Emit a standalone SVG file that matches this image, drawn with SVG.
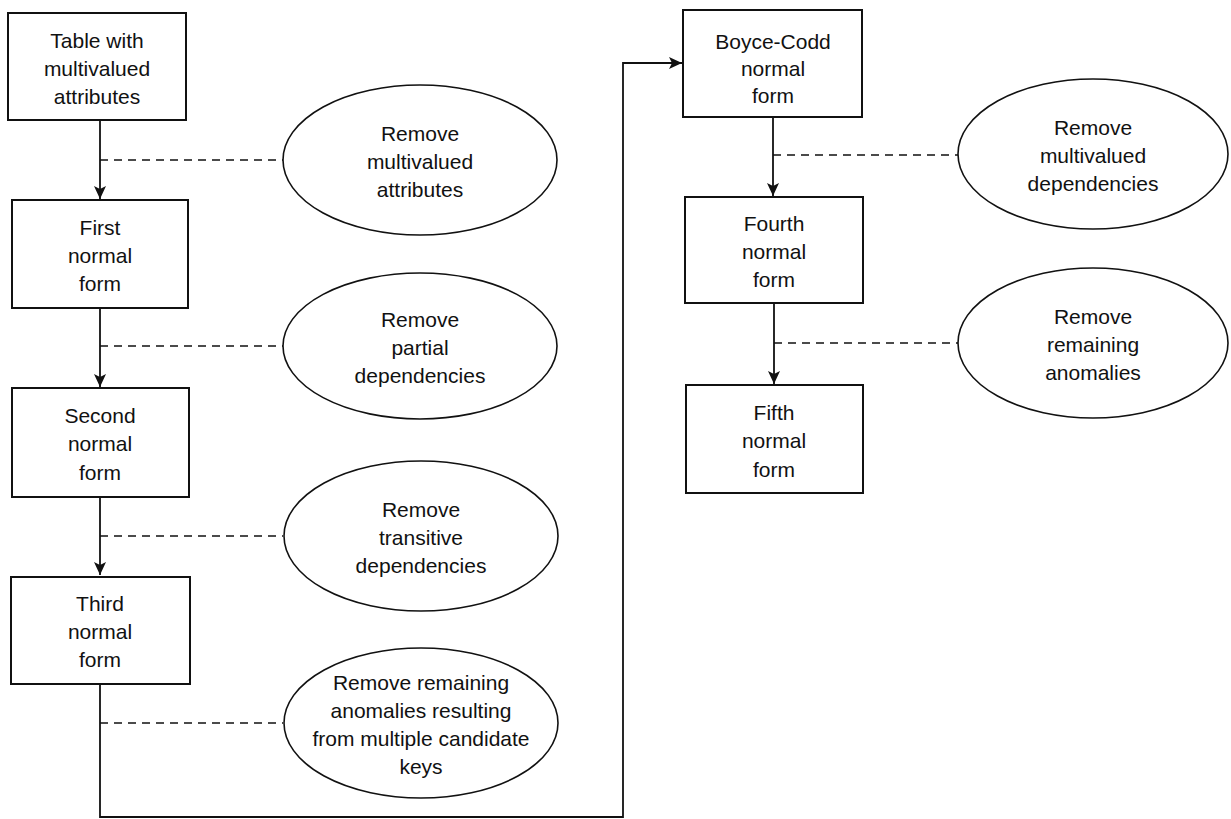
<svg xmlns="http://www.w3.org/2000/svg" width="1231" height="819" viewBox="0 0 1231 819">
<style>
.box{fill:#fff;stroke:#111;stroke-width:2}
.ell{fill:#fff;stroke:#111;stroke-width:1.6}
.t{font-family:"Liberation Sans",Arial,sans-serif;font-size:21px;fill:#111;text-anchor:middle}
.flow{fill:none;stroke:#111;stroke-width:1.8}
.dash{fill:none;stroke:#111;stroke-width:1.3;stroke-dasharray:8 6}
</style>
<defs>
<marker id="ah" markerUnits="userSpaceOnUse" markerWidth="14" markerHeight="12" refX="13" refY="6" orient="auto">
<path d="M0,0 L13,6 L0,12 L3,6 Z" fill="#111"/>
</marker>
</defs>
<g id="connectors">
<line class="flow" x1="100" y1="120" x2="100" y2="199" marker-end="url(#ah)"/>
<line class="flow" x1="100" y1="308" x2="100" y2="387" marker-end="url(#ah)"/>
<line class="flow" x1="100" y1="497" x2="100" y2="575" marker-end="url(#ah)"/>
<polyline class="flow" points="100,683 100,817 623,817 623,63 682,63" marker-end="url(#ah)"/>
<line class="flow" x1="773" y1="117" x2="773" y2="196" marker-end="url(#ah)"/>
<line class="flow" x1="774" y1="303" x2="774" y2="384" marker-end="url(#ah)"/>
<line class="dash" x1="100" y1="160" x2="283" y2="160"/>
<line class="dash" x1="100" y1="346" x2="283" y2="346"/>
<line class="dash" x1="100" y1="536" x2="283" y2="536"/>
<line class="dash" x1="100" y1="723" x2="283" y2="723"/>
<line class="dash" x1="773" y1="155" x2="958" y2="155"/>
<line class="dash" x1="774" y1="343" x2="958" y2="343"/>
</g>
<g id="n1"><rect class="box" x="8" y="13" width="178" height="107"/>
<text class="t" x="97" y="48">Table with</text><text class="t" x="97" y="76">multivalued</text><text class="t" x="97" y="104">attributes</text></g>
<g id="n2"><rect class="box" x="12" y="200" width="176" height="108"/>
<text class="t" x="100" y="235">First</text><text class="t" x="100" y="263">normal</text><text class="t" x="100" y="291">form</text></g>
<g id="n3"><rect class="box" x="12" y="388" width="177" height="109"/>
<text class="t" x="100" y="423">Second</text><text class="t" x="100" y="451">normal</text><text class="t" x="100" y="480">form</text></g>
<g id="n4"><rect class="box" x="11" y="577" width="179" height="107"/>
<text class="t" x="100" y="611">Third</text><text class="t" x="100" y="639">normal</text><text class="t" x="100" y="667">form</text></g>
<g id="n5"><rect class="box" x="683" y="10" width="179" height="107"/>
<text class="t" x="773" y="49">Boyce-Codd</text><text class="t" x="773" y="76">normal</text><text class="t" x="773" y="103">form</text></g>
<g id="n6"><rect class="box" x="685" y="197" width="178" height="106"/>
<text class="t" x="774" y="231">Fourth</text><text class="t" x="774" y="259">normal</text><text class="t" x="774" y="287">form</text></g>
<g id="n7"><rect class="box" x="686" y="385" width="177" height="108"/>
<text class="t" x="774" y="420">Fifth</text><text class="t" x="774" y="448">normal</text><text class="t" x="774" y="477">form</text></g>
<g id="e1"><ellipse class="ell" cx="420" cy="160" rx="137" ry="75"/>
<text class="t" x="420" y="141">Remove</text><text class="t" x="420" y="169">multivalued</text><text class="t" x="420" y="197">attributes</text></g>
<g id="e2"><ellipse class="ell" cx="420" cy="346" rx="137" ry="73"/>
<text class="t" x="420" y="327">Remove</text><text class="t" x="420" y="355">partial</text><text class="t" x="420" y="383">dependencies</text></g>
<g id="e3"><ellipse class="ell" cx="421" cy="536" rx="137" ry="75"/>
<text class="t" x="421" y="517">Remove</text><text class="t" x="421" y="545">transitive</text><text class="t" x="421" y="573">dependencies</text></g>
<g id="e4"><ellipse class="ell" cx="421" cy="723" rx="137" ry="75"/>
<text class="t" x="421" y="690">Remove remaining</text><text class="t" x="421" y="718">anomalies resulting</text><text class="t" x="421" y="746">from multiple candidate</text><text class="t" x="421" y="774">keys</text></g>
<g id="e5"><ellipse class="ell" cx="1093" cy="154" rx="135" ry="75"/>
<text class="t" x="1093" y="135">Remove</text><text class="t" x="1093" y="163">multivalued</text><text class="t" x="1093" y="191">dependencies</text></g>
<g id="e6"><ellipse class="ell" cx="1093" cy="343" rx="135" ry="75"/>
<text class="t" x="1093" y="324">Remove</text><text class="t" x="1093" y="352">remaining</text><text class="t" x="1093" y="380">anomalies</text></g>
</svg>
